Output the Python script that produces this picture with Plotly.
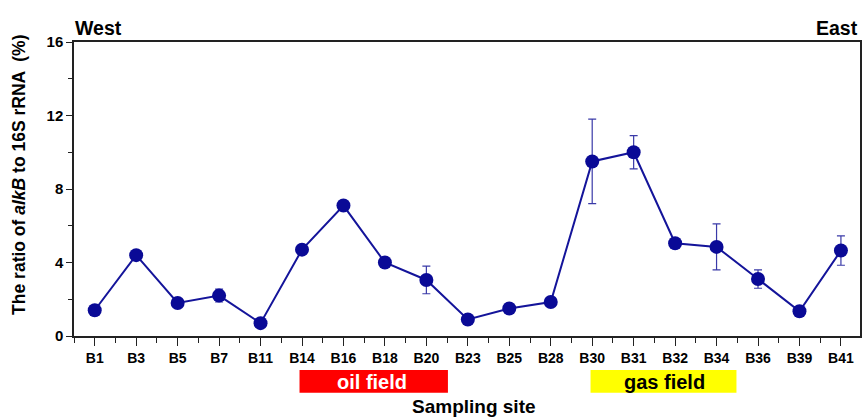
import plotly.graph_objects as go

sites = ["B1", "B3", "B5", "B7", "B11", "B14", "B16", "B18", "B20", "B23",
         "B25", "B28", "B30", "B31", "B32", "B34", "B36", "B39", "B41"]
ratio = [1.4, 4.4, 1.8, 2.2, 0.7, 4.7, 7.1, 4.0, 3.05, 0.9,
         1.5, 1.85, 9.5, 10.0, 5.05, 4.85, 3.1, 1.35, 4.65]
err = [0.1, 0.15, 0.1, 0.35, 0.1, 0.1, 0.1, 0.15, 0.75, 0.1,
       0.2, 0.1, 2.3, 0.9, 0.15, 1.25, 0.5, 0.1, 0.8]
pos = list(range(len(sites)))

font = "Liberation Sans, Arial, sans-serif"

fig = go.Figure()
fig.add_trace(go.Scatter(
    x=pos, y=ratio, mode="lines+markers",
    line=dict(color="#14149a", width=2),
    marker=dict(color="#0a0a96", size=14),
    error_y=dict(type="data", array=err, visible=True, color="#3a3aa8",
                 thickness=1.2, width=4),
    showlegend=False,
))

fig.update_layout(
    width=864, height=419,
    margin=dict(l=74, r=2, t=42, b=83),
    paper_bgcolor="white", plot_bgcolor="white",
    font=dict(family=font, color="black"),
    xaxis=dict(
        range=[-0.5, 18.46], tickvals=pos, ticktext=sites,
        tickfont=dict(size=14, family=font, weight="bold"),
        ticks="outside", ticklen=8, tickwidth=1.2, tickcolor="#222",
        showline=True, linecolor="#222", linewidth=1.5, mirror=True,
        showgrid=False, zeroline=False,
        minor=dict(ticks="outside", ticklen=5, dtick=0.5, tick0=0.5, tickcolor="#222", showgrid=False),
    ),
    yaxis=dict(
        range=[0, 16], tickvals=[0, 4, 8, 12, 16],
        tickfont=dict(size=15, family=font, weight="bold"),
        ticks="outside", ticklen=6, tickwidth=1.2, tickcolor="#222",
        showline=True, linecolor="#222", linewidth=1.5, mirror=True,
        showgrid=False, zeroline=False,
        minor=dict(ticks="outside", ticklen=4, dtick=2, tickcolor="#222", showgrid=False),
    ),
    shapes=[
        dict(type="rect", xref="x", yref="paper", x0=4.94, x1=8.52, y0=-0.193, y1=-0.116,
             fillcolor="#ff0000", line=dict(width=0)),
        dict(type="rect", xref="x", yref="paper", x0=11.96, x1=15.48, y0=-0.193, y1=-0.116,
             fillcolor="#ffff00", line=dict(width=0)),
    ],
    annotations=[
        dict(text="The ratio of <i>alkB</i> to 16S rRNA  (%)", textangle=-90,
             x=0, y=0.548, xref="paper", yref="paper", xanchor="center", yanchor="middle",
             xshift=-55, showarrow=False,
             font=dict(size=17.5, family=font, weight="bold")),
        dict(text="oil field", x=6.69, y=-0.155, xref="x", yref="paper", showarrow=False,
             yanchor="middle",
             font=dict(size=20, color="white", family=font, weight="bold")),
        dict(text="gas field", x=13.74, y=-0.155, xref="x", yref="paper", showarrow=False,
             yanchor="middle",
             font=dict(size=20, color="black", family=font, weight="bold")),
        dict(text="Sampling site", x=9.14, y=-0.283, xref="x", yref="paper", showarrow=False,
             yanchor="bottom",
             font=dict(size=19, color="black", family=font, weight="bold")),
        dict(text="West", x=0.0, y=1.0, xref="paper", yref="paper", xanchor="left",
             yanchor="bottom", yshift=1, xshift=-1, showarrow=False,
             font=dict(size=19.5, family=font, weight="bold")),
        dict(text="East", x=1.0, y=1.0, xref="paper", yref="paper", xanchor="right",
             yanchor="bottom", yshift=1, showarrow=False,
             font=dict(size=19.5, family=font, weight="bold")),
    ],
)

fig.write_html("out.html", config={"displayModeBar": False},
               post_script="document.body.style.margin='0';document.body.style.overflow='hidden';")
